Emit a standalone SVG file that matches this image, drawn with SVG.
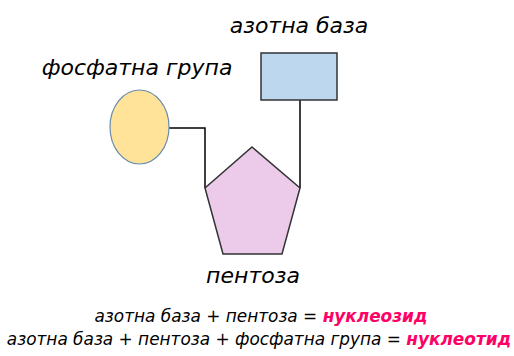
<svg xmlns="http://www.w3.org/2000/svg" width="514" height="356" viewBox="0 0 514 356">
<style>
text{font-family:"DejaVu Sans","Verdana",sans-serif;font-style:italic;fill:#000;}
.lbl{font-size:22px;}
.eq{font-size:16.9px;}
.hl{fill:#ff0066;font-weight:bold;}
.conn{fill:none;stroke:#000;stroke-width:1.5;}
</style>
<rect width="514" height="356" fill="#fff"/>
<g id="connectors">
<polyline class="conn" points="169,128 205,128 205,188"/>
<line class="conn" x1="300" y1="100" x2="300" y2="188"/>
</g>
<g id="phosphate">
<ellipse cx="139.5" cy="127" rx="29.5" ry="37" fill="#fee398" stroke="#6a8caf" stroke-width="1.2"/>
<text class="lbl" x="137" y="75" text-anchor="middle">фосфатна група</text>
</g>
<g id="base">
<rect x="261" y="53" width="76" height="47" fill="#bdd7ee" stroke="#333" stroke-width="1.5"/>
<text class="lbl" x="299" y="33" text-anchor="middle">азотна база</text>
</g>
<g id="pentose">
<polygon points="252,147 300,188 282,254 223,254 205,188" fill="#eccaea" stroke="#333" stroke-width="1.5"/>
<text class="lbl" x="253" y="283" text-anchor="middle">пентоза</text>
</g>
<g id="equations">
<text class="eq" x="261" y="322" text-anchor="middle">азотна база + пентоза = <tspan class="hl">нуклеозид</tspan></text>
<text class="eq" x="259" y="345" text-anchor="middle">азотна база + пентоза + фосфатна група = <tspan class="hl">нуклеотид</tspan></text>
</g>
</svg>
